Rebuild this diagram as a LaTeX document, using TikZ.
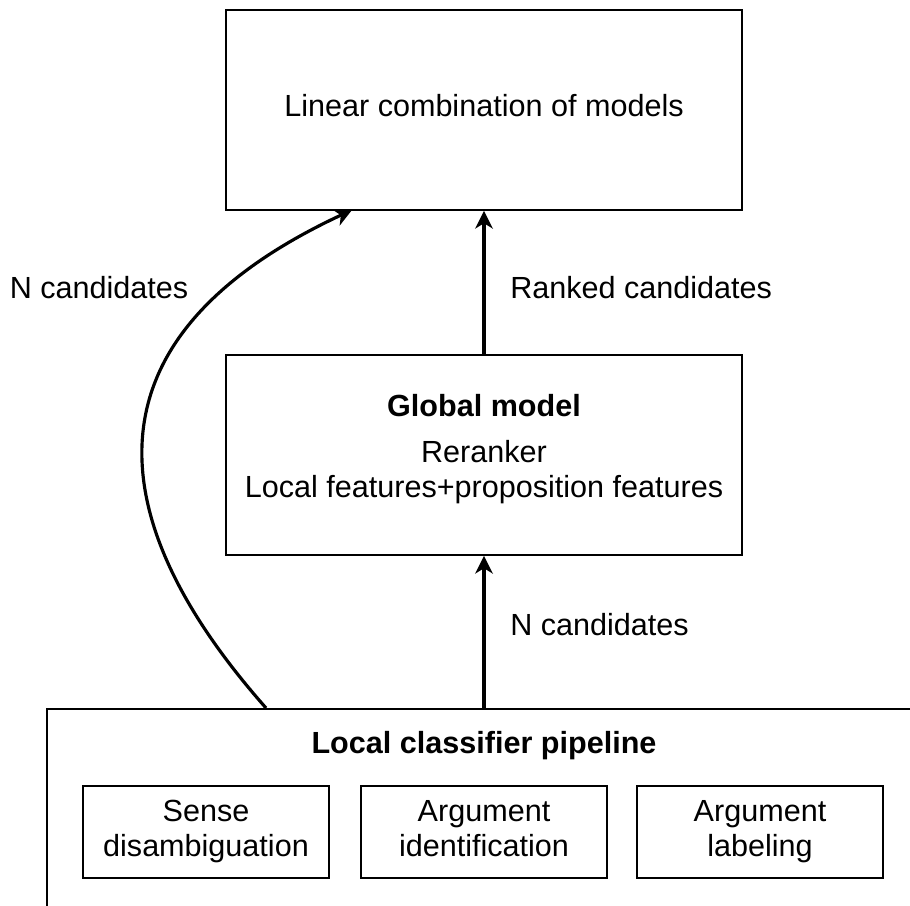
\documentclass[tikz,border=0pt]{standalone}
\usepackage{fontspec}
\setmainfont{Liberation Sans}
\usetikzlibrary{arrows.meta}
\tikzset{
  box/.style={draw,line width=1.1pt,inner sep=0pt,align=center},
  stagebox/.style={box,minimum width=4.92cm,minimum height=1.84cm},
  flow/.style={line width=1.8pt,-{Stealth[length=10pt,width=10pt,inset=3pt]}},
  lbl/.style={inner sep=0pt,align=center}
}
\begin{document}
\begin{tikzpicture}[x=0.02cm,y=-0.02cm,every node/.style={font=\fontsize{17.4}{20}\selectfont}]
\useasboundingbox (0,0) rectangle (910,906);

\node [box,minimum width=10.32cm,minimum height=4cm] (combo) at (484,110) {};
\node [lbl] (combotext) at (484,106) {Linear combination of models};
\node [box,minimum width=10.32cm,minimum height=4cm] (global) at (484,455) {};
\node [lbl] (globaltext) at (484,449) {\textbf{Global model}\\[6pt]Reranker\\Local features+proposition features};

\node [box,anchor=north west,minimum width=19cm,minimum height=6cm] (pipeline) at (46,708) {};
\node [lbl] (pipetitle) at (484,746) {\textbf{Local classifier pipeline}};
\node [stagebox] (sense) at (206,832) {\strut Sense\\\strut disambiguation};
\node [stagebox] (ident) at (484,832) {\strut Argument\\\strut identification};
\node [stagebox] (labeling) at (760,832) {\strut Argument\\\strut labeling};

\node [lbl] (ncandleft) at (99,288) {N candidates};
\node [lbl,anchor=west] (ranked) at (510,288) {Ranked candidates};
\node [lbl,anchor=west] (ncandright) at (510,625) {N candidates};

\coordinate (curvestart) at (266,708);
\coordinate (curveend) at (352,210);

\draw [flow] (global.south |- pipeline.north) -- (global.south);
\draw [flow] (global.north) -- (combo.south);
\draw [flow] (curvestart) .. controls (114,536) and (62,345) .. (curveend);
\end{tikzpicture}
\end{document}
